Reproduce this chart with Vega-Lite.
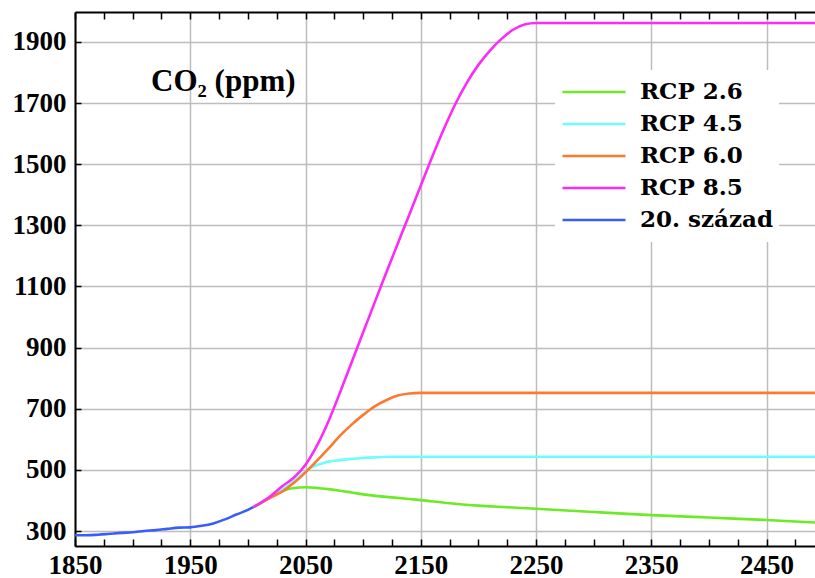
{
  "$schema": "https://vega.github.io/schema/vega-lite/v6.json",
  "width": 740,
  "height": 534,
  "autosize": {"type": "none"},
  "padding": {"left": 75, "top": 12, "right": 0, "bottom": 32},
  "background": "white",
  "config": {"view": {"stroke": null}},
  "datasets": {
    "co2": [
      {"series": "20. század", "year": 1850, "ppm": 286},
      {"series": "20. század", "year": 1860, "ppm": 286},
      {"series": "20. század", "year": 1870, "ppm": 288},
      {"series": "20. század", "year": 1880, "ppm": 291},
      {"series": "20. század", "year": 1890, "ppm": 294},
      {"series": "20. század", "year": 1900, "ppm": 296},
      {"series": "20. század", "year": 1910, "ppm": 300},
      {"series": "20. század", "year": 1920, "ppm": 303},
      {"series": "20. század", "year": 1930, "ppm": 307},
      {"series": "20. század", "year": 1940, "ppm": 311},
      {"series": "20. század", "year": 1950, "ppm": 312},
      {"series": "20. század", "year": 1960, "ppm": 317},
      {"series": "20. század", "year": 1970, "ppm": 325},
      {"series": "20. század", "year": 1980, "ppm": 338},
      {"series": "20. század", "year": 1990, "ppm": 354},
      {"series": "20. század", "year": 2000, "ppm": 369},
      {"series": "20. század", "year": 2005, "ppm": 379},

      {"series": "RCP 2.6", "year": 2005, "ppm": 379},
      {"series": "RCP 2.6", "year": 2010, "ppm": 389},
      {"series": "RCP 2.6", "year": 2020, "ppm": 412},
      {"series": "RCP 2.6", "year": 2030, "ppm": 431},
      {"series": "RCP 2.6", "year": 2040, "ppm": 441},
      {"series": "RCP 2.6", "year": 2050, "ppm": 443},
      {"series": "RCP 2.6", "year": 2060, "ppm": 441},
      {"series": "RCP 2.6", "year": 2070, "ppm": 437},
      {"series": "RCP 2.6", "year": 2080, "ppm": 432},
      {"series": "RCP 2.6", "year": 2090, "ppm": 426},
      {"series": "RCP 2.6", "year": 2100, "ppm": 420},
      {"series": "RCP 2.6", "year": 2125, "ppm": 410},
      {"series": "RCP 2.6", "year": 2150, "ppm": 401},
      {"series": "RCP 2.6", "year": 2175, "ppm": 391},
      {"series": "RCP 2.6", "year": 2200, "ppm": 383},
      {"series": "RCP 2.6", "year": 2225, "ppm": 378},
      {"series": "RCP 2.6", "year": 2250, "ppm": 373},
      {"series": "RCP 2.6", "year": 2300, "ppm": 362},
      {"series": "RCP 2.6", "year": 2350, "ppm": 352},
      {"series": "RCP 2.6", "year": 2400, "ppm": 344},
      {"series": "RCP 2.6", "year": 2450, "ppm": 336},
      {"series": "RCP 2.6", "year": 2492, "ppm": 328},

      {"series": "RCP 4.5", "year": 2005, "ppm": 379},
      {"series": "RCP 4.5", "year": 2010, "ppm": 390},
      {"series": "RCP 4.5", "year": 2020, "ppm": 413},
      {"series": "RCP 4.5", "year": 2030, "ppm": 436},
      {"series": "RCP 4.5", "year": 2040, "ppm": 463},
      {"series": "RCP 4.5", "year": 2050, "ppm": 495},
      {"series": "RCP 4.5", "year": 2055, "ppm": 508},
      {"series": "RCP 4.5", "year": 2060, "ppm": 516},
      {"series": "RCP 4.5", "year": 2065, "ppm": 522},
      {"series": "RCP 4.5", "year": 2070, "ppm": 527},
      {"series": "RCP 4.5", "year": 2080, "ppm": 532},
      {"series": "RCP 4.5", "year": 2090, "ppm": 536},
      {"series": "RCP 4.5", "year": 2100, "ppm": 539},
      {"series": "RCP 4.5", "year": 2110, "ppm": 541},
      {"series": "RCP 4.5", "year": 2125, "ppm": 543},
      {"series": "RCP 4.5", "year": 2150, "ppm": 543},
      {"series": "RCP 4.5", "year": 2300, "ppm": 543},
      {"series": "RCP 4.5", "year": 2492, "ppm": 543},

      {"series": "RCP 6.0", "year": 2005, "ppm": 379},
      {"series": "RCP 6.0", "year": 2010, "ppm": 389},
      {"series": "RCP 6.0", "year": 2020, "ppm": 410},
      {"series": "RCP 6.0", "year": 2030, "ppm": 430},
      {"series": "RCP 6.0", "year": 2040, "ppm": 458},
      {"series": "RCP 6.0", "year": 2050, "ppm": 492},
      {"series": "RCP 6.0", "year": 2060, "ppm": 530},
      {"series": "RCP 6.0", "year": 2070, "ppm": 570},
      {"series": "RCP 6.0", "year": 2080, "ppm": 612},
      {"series": "RCP 6.0", "year": 2090, "ppm": 648},
      {"series": "RCP 6.0", "year": 2100, "ppm": 680},
      {"series": "RCP 6.0", "year": 2110, "ppm": 708},
      {"series": "RCP 6.0", "year": 2120, "ppm": 728},
      {"series": "RCP 6.0", "year": 2130, "ppm": 743},
      {"series": "RCP 6.0", "year": 2140, "ppm": 750},
      {"series": "RCP 6.0", "year": 2150, "ppm": 752},
      {"series": "RCP 6.0", "year": 2300, "ppm": 752},
      {"series": "RCP 6.0", "year": 2492, "ppm": 752},

      {"series": "RCP 8.5", "year": 2005, "ppm": 379},
      {"series": "RCP 8.5", "year": 2010, "ppm": 390},
      {"series": "RCP 8.5", "year": 2020, "ppm": 415},
      {"series": "RCP 8.5", "year": 2030, "ppm": 447},
      {"series": "RCP 8.5", "year": 2040, "ppm": 475},
      {"series": "RCP 8.5", "year": 2050, "ppm": 517},
      {"series": "RCP 8.5", "year": 2060, "ppm": 580},
      {"series": "RCP 8.5", "year": 2070, "ppm": 660},
      {"series": "RCP 8.5", "year": 2080, "ppm": 754},
      {"series": "RCP 8.5", "year": 2090, "ppm": 852},
      {"series": "RCP 8.5", "year": 2100, "ppm": 950},
      {"series": "RCP 8.5", "year": 2110, "ppm": 1048},
      {"series": "RCP 8.5", "year": 2120, "ppm": 1145},
      {"series": "RCP 8.5", "year": 2130, "ppm": 1240},
      {"series": "RCP 8.5", "year": 2140, "ppm": 1335},
      {"series": "RCP 8.5", "year": 2150, "ppm": 1430},
      {"series": "RCP 8.5", "year": 2160, "ppm": 1525},
      {"series": "RCP 8.5", "year": 2170, "ppm": 1615},
      {"series": "RCP 8.5", "year": 2180, "ppm": 1697},
      {"series": "RCP 8.5", "year": 2190, "ppm": 1767},
      {"series": "RCP 8.5", "year": 2200, "ppm": 1825},
      {"series": "RCP 8.5", "year": 2210, "ppm": 1872},
      {"series": "RCP 8.5", "year": 2220, "ppm": 1910},
      {"series": "RCP 8.5", "year": 2230, "ppm": 1940},
      {"series": "RCP 8.5", "year": 2240, "ppm": 1957},
      {"series": "RCP 8.5", "year": 2250, "ppm": 1962},
      {"series": "RCP 8.5", "year": 2350, "ppm": 1962},
      {"series": "RCP 8.5", "year": 2492, "ppm": 1962}
    ],
    "note": [
      {"label": "CO₂ (ppm)", "year": 1916, "ppm": 1738}
    ]
  },
  "layer": [
    {
      "data": {"name": "co2"},
      "mark": {"type": "line", "strokeWidth": 2.6, "interpolate": "monotone", "clip": true},
      "encoding": {
        "x": {
          "field": "year", "type": "quantitative",
          "scale": {"domain": [1850, 2492], "nice": false, "zero": false},
          "axis": {
            "orient": "bottom", "title": null,
            "values": [1850,1875,1900,1925,1950,1975,2000,2025,2050,2075,2100,2125,2150,2175,2200,2225,2250,2275,2300,2325,2350,2375,2400,2425,2450,2475],
            "format": "d",
            "labelExpr": "(datum.value - 1850) % 100 == 0 ? datum.label : ''",
            "labelFont": "Liberation Serif", "labelFontSize": 27, "labelFontWeight": "bold", "labelColor": "black",
            "labelPadding": 13, "labelFlush": false, "labelOverlap": false,
            "tickSize": -7, "tickColor": "black", "tickWidth": 1.5,
            "domainColor": "black", "domainWidth": 2,
            "grid": true, "gridColor": "#bdbdbd", "gridWidth": 1.5,
            "gridOpacity": {"condition": {"test": "(datum.value - 1850) % 100 == 0", "value": 1}, "value": 0}
          }
        },
        "y": {
          "field": "ppm", "type": "quantitative",
          "scale": {"domain": [251, 1998], "nice": false, "zero": false},
          "axis": {
            "title": null,
            "values": [300,400,500,600,700,800,900,1000,1100,1200,1300,1400,1500,1600,1700,1800,1900],
            "format": "d",
            "labelExpr": "(datum.value - 300) % 200 == 0 ? datum.label : ''",
            "labelFont": "Liberation Serif", "labelFontSize": 27, "labelFontWeight": "bold", "labelColor": "black",
            "labelPadding": 15, "labelFlush": false, "labelOverlap": false,
            "tickSize": -6, "tickColor": "black", "tickWidth": 1.5,
            "domainColor": "black", "domainWidth": 2,
            "grid": true, "gridColor": "#bdbdbd", "gridWidth": 1.5,
            "gridOpacity": {"condition": {"test": "(datum.value - 300) % 200 == 0", "value": 1}, "value": 0}
          }
        },
        "color": {
          "field": "series", "type": "nominal",
          "scale": {
            "domain": ["RCP 2.6", "RCP 4.5", "RCP 6.0", "RCP 8.5", "20. század"],
            "range": ["#6cea28", "#6ffcfc", "#fc7a30", "#fc2cf6", "#3a5cf8"]
          },
          "legend": {
            "orient": "none", "legendX": 480, "legendY": 58, "title": null,
            "fillColor": "white", "padding": 6,
            "symbolType": "stroke", "symbolStrokeWidth": 2.6, "symbolSize": 3969,
            "labelFont": "DejaVu Serif", "labelFontSize": 23, "labelFontWeight": "bold", "labelColor": "black",
            "labelOffset": 13, "rowPadding": 0, "clipHeight": 32
          }
        }
      }
    },
    {
      "data": {"name": "note"},
      "mark": {"type": "text", "align": "left", "baseline": "alphabetic", "font": "Liberation Serif", "fontSize": 31, "fontWeight": "bold", "color": "black"},
      "encoding": {
        "text": {"field": "label"},
        "x": {
          "field": "year", "type": "quantitative",
          "axis": {
            "orient": "top", "title": null, "labels": false, "grid": false,
            "values": [1850,1875,1900,1925,1950,1975,2000,2025,2050,2075,2100,2125,2150,2175,2200,2225,2250,2275,2300,2325,2350,2375,2400,2425,2450,2475],
            "tickSize": -7, "tickColor": "black", "tickWidth": 1.5,
            "domainColor": "black", "domainWidth": 2
          }
        },
        "y": {"field": "ppm", "type": "quantitative"}
      }
    }
  ],
  "resolve": {"axis": {"x": "independent"}}
}
